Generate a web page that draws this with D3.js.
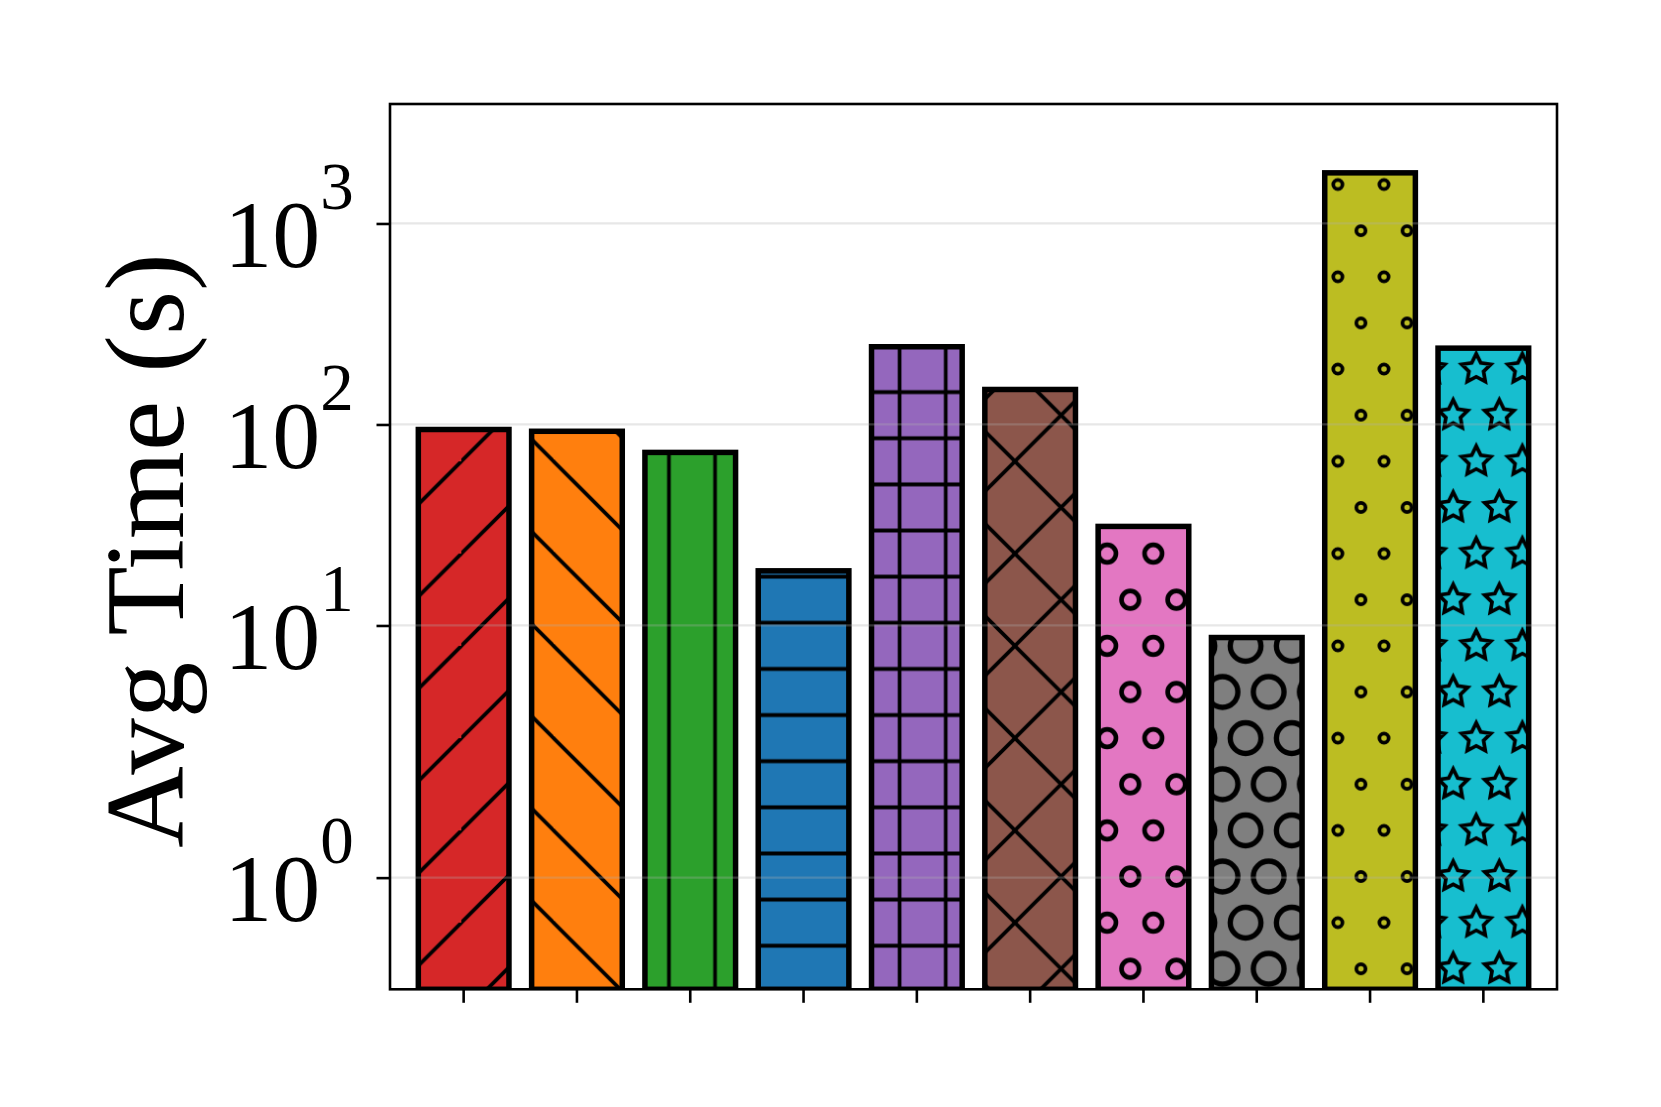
<!DOCTYPE html>
<html>
<head>
<meta charset="utf-8">
<script src="https://cdn.jsdelivr.net/npm/d3@7"></script>
<style>
  body { margin: 0; background: #fff; }
  text { font-family: 'Liberation Serif', 'Times New Roman', serif; }
</style>
</head>
<body>
<div id="chart-area"></div>
<script>
// data
var categories = [0, 1, 2, 3, 4, 5, 6, 7, 8, 9];
var avgTimes = [94.4, 92.5, 72.6, 18.7, 243.6, 149.3, 31.1, 8.71, 1786, 239.7];
var yTickValues = [1, 10, 100, 1000];
var yTickExponents = ['0', '1', '2', '3'];
var yLimit = 3930;

// styles
var colors = ['#d62728', '#ff7f0e', '#2ca02c', '#1f77b4', '#9467bd',
  '#8c564b', '#e377c2', '#7f7f7f', '#bcbd22', '#17becf'];
var hatches = ['/', '\\', '|', '-', '+', 'x', 'o', 'O', '.', '*'];

var margin = { left: 390, right: 104, top: 104, bottom: 117.7 };
var fullW = 1661, fullH = 1107;
var width = fullW - margin.left - margin.right;
var height = fullH - margin.top - margin.bottom;

var hatchUnit = 276.8;      // one inch at the figure dpi
var hatchLw = 3.7;

// matplotlib style symlog (linthresh 2, linscale 1)
function symlog(v) {
  var c = 2, adj = 1 / (1 - 1 / 10);
  var a = Math.abs(v);
  if (a <= c) return v * adj;
  return Math.sign(v) * c * (Math.log10(a / c) + adj);
}

var svg = d3.select('#chart-area')
  .append('svg')
    .attr('width', fullW)
    .attr('height', fullH);

var defs = svg.append('defs');

// ---- hatch patterns, tiled from the page origin ----
var P = hatchUnit / 6, T = hatchUnit / 3;

function makePattern(id, w, h) {
  // the bars live in the translated group, so shift back to page origin
  return defs.append('pattern')
    .attr('id', id)
    .attr('patternUnits', 'userSpaceOnUse')
    .attr('x', -margin.left).attr('y', -margin.top)
    .attr('width', w).attr('height', h);
}

function lines(pat, segs) {
  segs.forEach(function(s) {
    pat.append('line')
      .attr('x1', s[0]).attr('y1', s[1]).attr('x2', s[2]).attr('y2', s[3])
      .attr('stroke', '#000').attr('stroke-width', hatchLw);
  });
}

function shapeCenters() {
  return [[0, 0], [P, 0], [P / 2, P], [0, 2 * P], [P, 2 * P]];
}

function starPath(cx, cy, R) {
  var pts = d3.range(10).map(function(k) {
    var a = -Math.PI / 2 + k * Math.PI / 5;
    var r = k % 2 === 0 ? R : R / 2;
    return [cx + r * Math.cos(a), cy + r * Math.sin(a)];
  });
  return 'M' + pts.join('L') + 'Z';
}

hatches.forEach(function(h, i) {
  var id = 'hatch' + i;
  var pat;
  if (h === '/' || h === '\\' || h === 'x') {
    pat = makePattern(id, T, T);
    if (h !== '\\') {
      lines(pat, [[-T, T, T, -T], [-T, 2 * T, 2 * T, -T], [0, 3 * T, 3 * T, 0]]);
    }
    if (h !== '/') {
      lines(pat, [[-T, -2 * T, 2 * T, T], [-T, -T, 2 * T, 2 * T], [-T, 0, 2 * T, 3 * T]]);
    }
  } else if (h === '|' || h === '-' || h === '+') {
    pat = makePattern(id, P, P);
    if (h !== '-') lines(pat, [[P / 2, -1, P / 2, P + 1]]);
    if (h !== '|') lines(pat, [[-1, P / 2, P + 1, P / 2]]);
  } else {
    pat = makePattern(id, P, 2 * P);
    shapeCenters().forEach(function(c) {
      if (h === '*') {
        pat.append('path')
          .attr('d', starPath(c[0], c[1], P / 3))
          .attr('fill', 'none')
          .attr('stroke', '#000')
          .attr('stroke-width', hatchLw)
          .attr('stroke-linejoin', 'miter');
      } else {
        var size = h === 'o' ? 0.2 : (h === 'O' ? 0.35 : 0.1);
        var r = size * P;
        var ringed = h !== '.';
        pat.append('circle')
          .attr('cx', c[0]).attr('cy', c[1])
          .attr('r', ringed ? r * 0.95 : r)
          .attr('fill', 'none')
          .attr('stroke', '#000')
          .attr('stroke-width', ringed ? hatchLw + r * 0.1 : hatchLw);
      }
    });
  }
});

defs.append('clipPath')
  .attr('id', 'plot-clip')
  .append('rect')
    .attr('x', 0).attr('y', 0)
    .attr('width', width).attr('height', height);

var area = svg.append('g')
  .attr('transform', 'translate(' + margin.left + ', ' + margin.top + ')');

// X Scale
var x = d3.scaleBand()
  .domain(categories)
  .range([0, width])
  .paddingInner(0.2)
  .paddingOuter(0.25);

// Y Scale (linear on the symlog transformed values)
var yLin = d3.scaleLinear()
  .domain([0, symlog(yLimit)])
  .range([height, 0]);
function y(v) { return yLin(symlog(v)); }

// bars
var bars = area.append('g')
  .attr('clip-path', 'url(#plot-clip)')
  .selectAll('g')
  .data(avgTimes)
  .enter()
  .append('g');

bars.append('rect')
  .attr('x', function(d, i) { return x(categories[i]); })
  .attr('y', function(d) { return y(d); })
  .attr('width', x.bandwidth())
  .attr('height', function(d) { return y(0) - y(d); })
  .attr('fill', function(d, i) { return colors[i]; });

bars.append('rect')
  .attr('x', function(d, i) { return x(categories[i]); })
  .attr('y', function(d) { return y(d); })
  .attr('width', x.bandwidth())
  .attr('height', function(d) { return y(0) - y(d); })
  .attr('fill', function(d, i) { return 'url(#hatch' + i + ')'; });

bars.append('rect')
  .attr('x', function(d, i) { return x(categories[i]); })
  .attr('y', function(d) { return y(d); })
  .attr('width', x.bandwidth())
  .attr('height', function(d) { return y(0) - y(d); })
  .attr('fill', 'none')
  .attr('stroke', '#000')
  .attr('stroke-width', 5.5);

// grid lines (drawn over the bars like matplotlib)
area.append('g')
  .selectAll('line')
  .data(yTickValues)
  .enter()
  .append('line')
    .attr('x1', 0).attr('x2', width)
    .attr('y1', function(d) { return y(d); })
    .attr('y2', function(d) { return y(d); })
    .attr('stroke', '#b0b0b0')
    .attr('stroke-opacity', 0.3)
    .attr('stroke-width', 2.2);

// X Axis
var xAxisGroup = area.append('g')
  .attr('class', 'x-axis')
  .attr('transform', 'translate(0, ' + height + ')')
  .call(d3.axisBottom(x).tickSize(13.5).tickSizeOuter(0).tickFormat(''));

// Y Axis
var yAxisGroup = area.append('g')
  .attr('class', 'y-axis')
  .call(d3.axisLeft(yLin)
    .tickValues(yTickValues.map(symlog))
    .tickSize(13.5)
    .tickSizeOuter(0)
    .tickPadding(22.8));

area.selectAll('.domain').remove();
area.selectAll('.tick line')
  .attr('stroke', '#000')
  .attr('stroke-width', 2.6);

yAxisGroup.selectAll('.tick text')
  .each(function(d, i) {
    var t = d3.select(this);
    t.text(null)
      .attr('dy', 43)
      .attr('font-size', 96)
      .attr('fill', '#000');
    t.append('tspan').text('10');
    t.append('tspan')
      .attr('dy', -57.7)
      .attr('font-size', 67)
      .text(yTickExponents[i]);
  });

// frame
area.append('rect')
  .attr('x', 0).attr('y', 0)
  .attr('width', width).attr('height', height)
  .attr('fill', 'none')
  .attr('stroke', '#000')
  .attr('stroke-width', 2.6);

// Y label
area.append('text')
  .attr('x', -(height / 2) - 4)
  .attr('y', 183 - margin.left)
  .attr('font-size', 113)
  .attr('text-anchor', 'middle')
  .attr('transform', 'rotate(-90)')
  .text('Avg Time (s)');
</script>
</body>
</html>
